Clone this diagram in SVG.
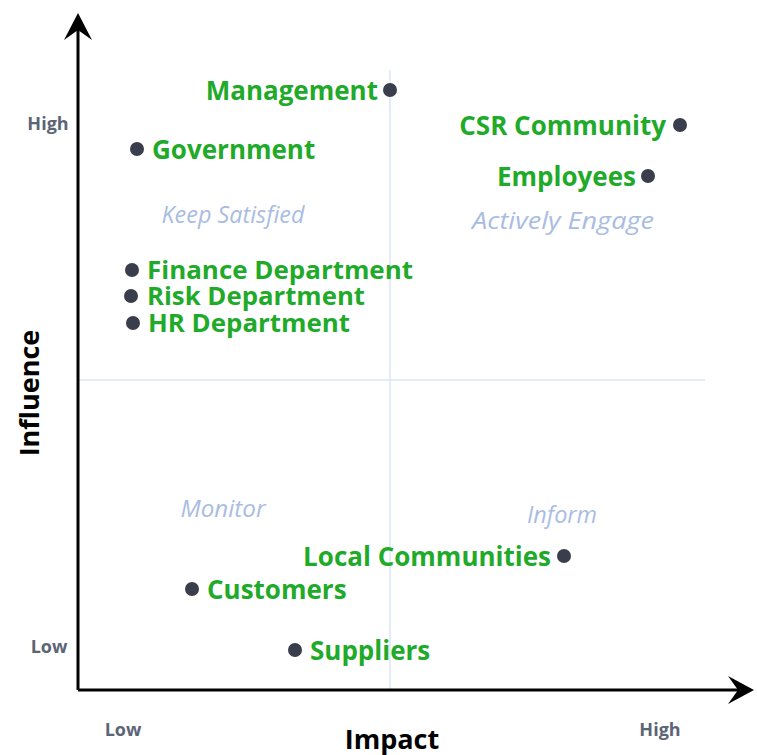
<svg xmlns="http://www.w3.org/2000/svg" width="757" height="755" viewBox="0 0 757 755">
  <style>
    .axis { stroke: #000; stroke-width: 3; fill: none; }
    .grid { stroke: #dde6f6; stroke-width: 1.5; fill: none; }
    .tick { font-family: "Open Sans", "Noto Sans", sans-serif; font-weight: bold; font-size: 18px; fill: #5b6576; }
    .title { font-family: "Open Sans", "Noto Sans", sans-serif; font-weight: bold; font-size: 27px; fill: #000; }
    .quad { font-family: "Open Sans", "Noto Sans", sans-serif; font-style: italic; font-size: 23px; fill: #a9bde2; }
    .name { font-family: "Open Sans", "Noto Sans", sans-serif; font-weight: bold; font-size: 26px; fill: #1faa2a; }
    .name.tight { font-size: 25px; }
    .dot { fill: #3a3d4b; }
  </style>

  <rect width="757" height="755" fill="#fff"/>

  <!-- quadrant dividers -->
  <g id="grid">
    <line class="grid" x1="390" y1="70" x2="390" y2="689"/>
    <line class="grid" x1="79" y1="380" x2="705" y2="380"/>
  </g>

  <!-- axes with arrowheads -->
  <g id="axes">
    <path d="M78,690 L78,26" class="axis"/>
    <path d="M64,40 L78,13 L92,40 L78,30 Z" fill="#000"/>
    <path d="M78,690 L741,690" class="axis"/>
    <path d="M728,676 L754,690 L728,704 L738,690 Z" fill="#000"/>
  </g>

  <!-- axis labels -->
  <g id="labels">
    <text class="tick" x="48" y="130" text-anchor="middle">High</text>
    <text class="tick" x="49" y="653" text-anchor="middle">Low</text>
    <text class="tick" x="123" y="736" text-anchor="middle">Low</text>
    <text class="tick" x="660" y="736" text-anchor="middle">High</text>
    <text class="title" x="392" y="749" text-anchor="middle">Impact</text>
    <text class="title" transform="translate(39,393) rotate(-90)" text-anchor="middle">Influence</text>
  </g>

  <!-- quadrant names -->
  <g id="quadrants">
    <text class="quad" x="233" y="223" text-anchor="middle" textLength="143" lengthAdjust="spacingAndGlyphs">Keep Satisfied</text>
    <text class="quad" x="563" y="229" text-anchor="middle" font-size="25" textLength="182" lengthAdjust="spacingAndGlyphs">Actively Engage</text>
    <text class="quad" x="223" y="517" text-anchor="middle" textLength="85" lengthAdjust="spacingAndGlyphs">Monitor</text>
    <text class="quad" x="562" y="523" text-anchor="middle" textLength="70" lengthAdjust="spacingAndGlyphs">Inform</text>
  </g>

  <!-- stakeholders -->
  <g id="management"><circle class="dot" cx="390" cy="90" r="7"/><text class="name" x="378" y="100" text-anchor="end">Management</text></g>
  <g id="government"><circle class="dot" cx="137" cy="149" r="7"/><text class="name" x="152" y="159">Government</text></g>
  <g id="csr-community"><circle class="dot" cx="680" cy="125" r="7"/><text class="name" x="666" y="135" text-anchor="end">CSR Community</text></g>
  <g id="employees"><circle class="dot" cx="648" cy="176" r="7"/><text class="name" x="636" y="186" text-anchor="end">Employees</text></g>
  <g id="finance"><circle class="dot" cx="132" cy="270" r="7"/><text class="name tight" x="147" y="279" textLength="266" lengthAdjust="spacingAndGlyphs">Finance Department</text></g>
  <g id="risk"><circle class="dot" cx="131" cy="296" r="7"/><text class="name tight" x="147" y="305" textLength="218" lengthAdjust="spacingAndGlyphs">Risk Department</text></g>
  <g id="hr"><circle class="dot" cx="133" cy="323" r="7"/><text class="name tight" x="148" y="332" textLength="202" lengthAdjust="spacingAndGlyphs">HR Department</text></g>
  <g id="local-communities"><circle class="dot" cx="564" cy="556" r="7"/><text class="name" x="551" y="566" text-anchor="end">Local Communities</text></g>
  <g id="customers"><circle class="dot" cx="192" cy="589" r="7"/><text class="name" x="207" y="599">Customers</text></g>
  <g id="suppliers"><circle class="dot" cx="295" cy="650" r="7"/><text class="name" x="310" y="660">Suppliers</text></g>
</svg>
